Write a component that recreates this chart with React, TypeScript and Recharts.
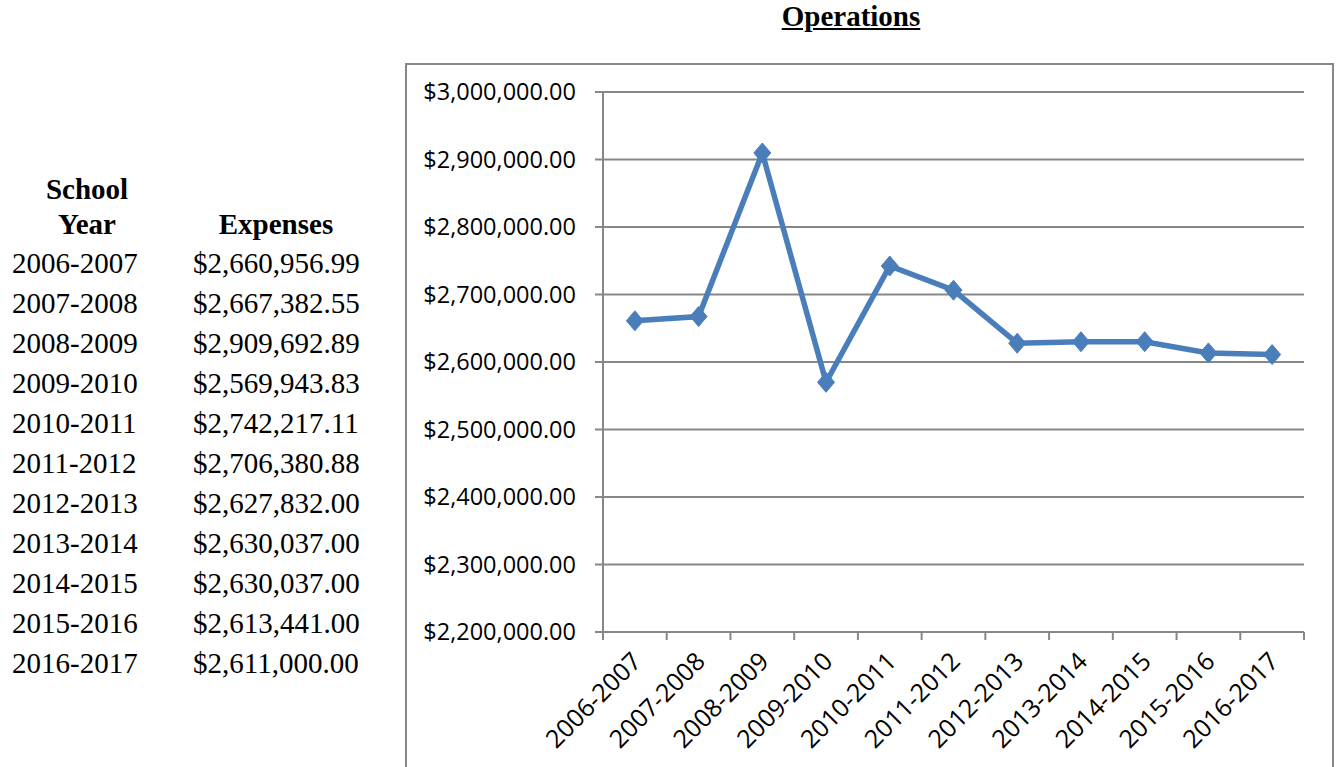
import React from "react";
import { LineChart, Line, XAxis, YAxis, CartesianGrid } from "recharts";

const schoolYears = [
  "2006-2007", "2007-2008", "2008-2009", "2009-2010", "2010-2011", "2011-2012",
  "2012-2013", "2013-2014", "2014-2015", "2015-2016", "2016-2017",
];
const expenses = [
  2660956.99, 2667382.55, 2909692.89, 2569943.83, 2742217.11, 2706380.88,
  2627832.0, 2630037.0, 2630037.0, 2613441.0, 2611000.0,
];
const yTicks = [2200000, 2300000, 2400000, 2500000, 2600000, 2700000, 2800000, 2900000, 3000000];
const xBoundaryTicks = [0, 1, 2, 3, 4, 5, 6, 7, 8, 9, 10, 11];

const data = schoolYears.map((year, i) => ({ year, idx: i + 0.5, value: expenses[i] }));

const GRAY = "#878787";
const BLUE = "#4a7ebb";
const CHART_FONT = "'Open Sans', sans-serif";
const SERIF = "'Liberation Serif', 'Times New Roman', serif";

const W = 1340;
const H = 767;
const MARGIN = { top: 92, right: 36, bottom: 5, left: 403 };
const Y_AXIS_W = 200;
const X_AXIS_H = 130;
const PLOT_W = W - MARGIN.left - MARGIN.right - Y_AXIS_W;
const BAND = PLOT_W / schoolYears.length;

const money = (v: number) =>
  "$" + v.toLocaleString("en-US", { minimumFractionDigits: 2, maximumFractionDigits: 2 });

const XTick = (props: any) => {
  const { x, y, payload } = props;
  const i = payload.value;
  if (i >= schoolYears.length) return <g />;
  const tx = x + BAND / 2 + 8;
  const ty = y + 23;
  return (
    <text
      x={tx}
      y={ty}
      textAnchor="end"
      transform={`rotate(-45, ${tx}, ${ty})`}
      fontFamily={CHART_FONT}
      fontSize={25}
      fill="#000"
    >
      {schoolYears[i]}
    </text>
  );
};

const Diamond = (props: any) => {
  const { cx, cy, index } = props;
  const rx = 8.5;
  const ry = 10;
  return (
    <polygon
      key={`d-${index}`}
      points={`${cx},${cy - ry} ${cx + rx},${cy} ${cx},${cy + ry} ${cx - rx},${cy}`}
      fill={BLUE}
      stroke={BLUE}
      strokeWidth={1}
    />
  );
};

export default function App() {
  return (
    <div
      style={{
        position: "absolute",
        left: 0,
        top: 0,
        width: W,
        height: H,
        overflow: "hidden",
        background: "#fff",
      }}
    >
      {/* Title */}
      <div
        style={{
          position: "absolute",
          left: 651,
          width: 400,
          top: -4,
          textAlign: "center",
          fontFamily: SERIF,
          fontWeight: "bold",
          fontSize: 29,
          lineHeight: "40px",
          textDecoration: "underline",
          color: "#000",
        }}
      >
        Operations
      </div>

      {/* Table headers */}
      <div
        style={{
          position: "absolute",
          left: 0,
          width: 174,
          top: 172,
          textAlign: "center",
          fontFamily: SERIF,
          fontWeight: "bold",
          fontSize: 29,
          lineHeight: "35px",
          color: "#000",
        }}
      >
        School
        <br />
        Year
      </div>
      <div
        style={{
          position: "absolute",
          left: 176,
          width: 200,
          top: 207,
          textAlign: "center",
          fontFamily: SERIF,
          fontWeight: "bold",
          fontSize: 29,
          lineHeight: "35px",
          color: "#000",
        }}
      >
        Expenses
      </div>
      {schoolYears.map((y, i) => (
        <React.Fragment key={y}>
          <div
            style={{
              position: "absolute",
              left: 12,
              top: 242.5 + 40 * i,
              fontFamily: SERIF,
              fontSize: 29,
              lineHeight: "40px",
              color: "#000",
              whiteSpace: "nowrap",
            }}
          >
            {y}
          </div>
          <div
            style={{
              position: "absolute",
              left: 193,
              top: 242.5 + 40 * i,
              fontFamily: SERIF,
              fontSize: 29,
              lineHeight: "40px",
              color: "#000",
              whiteSpace: "nowrap",
            }}
          >
            {money(expenses[i])}
          </div>
        </React.Fragment>
      ))}

      {/* Chart frame */}
      <div
        style={{
          position: "absolute",
          left: 405,
          top: 63,
          width: 925,
          height: 800,
          border: `2px solid ${GRAY}`,
          boxSizing: "content-box",
        }}
      />

      <div style={{ position: "absolute", left: 0, top: 0 }}>
        <LineChart width={W} height={H} data={data} margin={MARGIN}>
          <CartesianGrid vertical={false} stroke={GRAY} strokeWidth={2} />
          <XAxis
            type="number"
            dataKey="idx"
            domain={[0, schoolYears.length]}
            ticks={xBoundaryTicks}
            interval={0}
            allowDataOverflow
            height={X_AXIS_H}
            tickSize={8}
            tickMargin={0}
            axisLine={{ stroke: GRAY, strokeWidth: 2 }}
            tickLine={{ stroke: GRAY, strokeWidth: 2 }}
            tick={(p: any) => <XTick {...p} />}
          />
          <YAxis
            type="number"
            domain={[2200000, 3000000]}
            ticks={yTicks}
            interval={0}
            allowDataOverflow
            width={Y_AXIS_W}
            tickSize={8}
            tickMargin={19}
            axisLine={{ stroke: GRAY, strokeWidth: 2 }}
            tickLine={{ stroke: GRAY, strokeWidth: 2 }}
            tickFormatter={money}
            tick={{ fontFamily: CHART_FONT, fontSize: 23.5, fill: "#000" }}
          />
          <Line
            type="linear"
            dataKey="value"
            stroke={BLUE}
            strokeWidth={5.5}
            dot={(p: any) => <Diamond {...p} key={`dot-${p.index}`} />}
            activeDot={false}
            isAnimationActive={false}
          />
        </LineChart>
      </div>
    </div>
  );
}
